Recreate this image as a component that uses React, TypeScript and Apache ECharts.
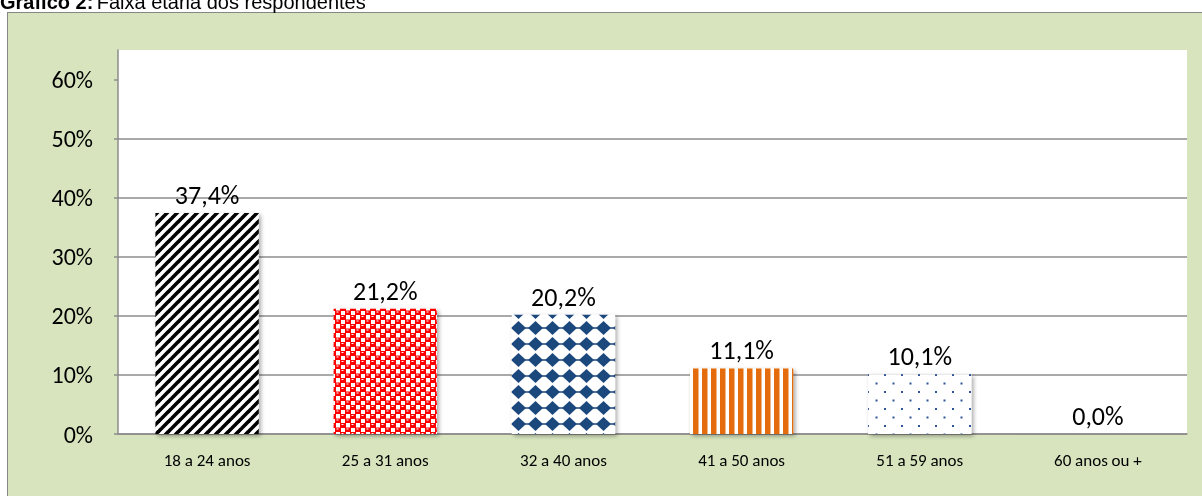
import React, { useEffect, useRef } from "react";
import * as echarts from "echarts";

const categories = ["18 a 24 anos", "25 a 31 anos", "32 a 40 anos", "41 a 50 anos", "51 a 59 anos", "60 anos ou +"];
const values = [0.374, 0.212, 0.202, 0.111, 0.101, 0.0];
const tickValues = [0, 0.1, 0.2, 0.3, 0.4, 0.5, 0.6];
const titleBold = "Gráfico 2:";
const titleRest = "Faixa etária dos respondentes";

type Tile = { url: string; w: number; h: number };

function makeTile(w: number, h: number, draw: (ctx: CanvasRenderingContext2D) => void): Tile {
  const c = document.createElement("canvas");
  c.width = w;
  c.height = h;
  const ctx = c.getContext("2d") as CanvasRenderingContext2D;
  ctx.fillStyle = "#ffffff";
  ctx.fillRect(0, 0, w, h);
  draw(ctx);
  return { url: c.toDataURL(), w, h };
}

function buildTiles(): Tile[] {
  const stripes = makeTile(10, 10, (ctx) => {
    ctx.strokeStyle = "#000000";
    ctx.lineWidth = 3.6;
    for (let k = -1; k <= 1; k++) {
      ctx.beginPath();
      ctx.moveTo(k * 10 - 1, 11);
      ctx.lineTo(k * 10 + 11, -1);
      ctx.stroke();
    }
  });
  const red = makeTile(10, 9, (ctx) => {
    ctx.fillStyle = "#ff0000";
    ctx.fillRect(0, 0, 6, 5);
    ctx.fillRect(5, 4.5, 5, 4.5);
    ctx.fillRect(0, 4.5, 1, 4.5);
    ctx.fillStyle = "#ffffff";
    ctx.fillRect(1.5, 1, 2, 1);
    ctx.fillRect(6.5, 5.5, 2, 1);
  });
  const diamonds = makeTile(17, 16, (ctx) => {
    ctx.fillStyle = "#1f497d";
    ctx.beginPath();
    ctx.moveTo(8.5, 1);
    ctx.lineTo(16, 8);
    ctx.lineTo(8.5, 15);
    ctx.lineTo(1, 8);
    ctx.closePath();
    ctx.fill();
    ctx.fillRect(0, 7.25, 17, 1.5);
  });
  const orange = makeTile(9, 9, (ctx) => {
    ctx.fillStyle = "#e46c0a";
    ctx.fillRect(0, 0, 5.5, 9);
  });
  const dots = makeTile(17, 17, (ctx) => {
    ctx.fillStyle = "#2e5597";
    ctx.fillRect(0, 0, 2, 2);
    ctx.fillRect(8.5, 8.5, 2, 2);
  });
  return [stripes, red, diamonds, orange, dots, dots];
}

export default function App() {
  const ref = useRef<HTMLDivElement>(null);
  useEffect(() => {
    if (!ref.current) return;
    const chart = echarts.init(ref.current, null, { renderer: "svg" });
    const tiles = buildTiles();
    const font = "Calibri, Carlito, Lato, sans-serif";
    chart.setOption({
      animation: false,
      graphic: [
        {
          type: "text",
          x: 0,
          y: 2,
          style: {
            text: `{b|${titleBold}} {r|${titleRest}}`,
            verticalAlign: "middle",
            rich: {
              b: { fontFamily: "Liberation Sans, Arial", fontWeight: "bold", fontSize: 20, fill: "#000" },
              r: { fontFamily: "Liberation Sans, Arial", fontSize: 20, fill: "#000" },
            },
          },
        },
      ],
      grid: {
        left: 118,
        right: 15,
        top: 50,
        bottom: 62,
        show: true,
        backgroundColor: "#ffffff",
        borderWidth: 0,
      },
      xAxis: {
        type: "category",
        data: categories,
        axisLine: { lineStyle: { color: "#8c8c8c", width: 1.5 } },
        axisTick: { show: false },
        axisLabel: { color: "#000", fontSize: 17, fontFamily: font, margin: 18 },
      },
      yAxis: {
        type: "value",
        min: 0,
        max: 0.65,
        interval: 0.1,
        axisLine: { show: true, lineStyle: { color: "#8c8c8c", width: 1.5 } },
        axisTick: { show: true, length: 4, customValues: tickValues, lineStyle: { color: "#8c8c8c", width: 1.5 } },
        axisLabel: {
          customValues: tickValues,
          color: "#000",
          fontSize: 24,
          fontFamily: font,
          margin: 25,
          formatter: (v: number) => `${Math.round(v * 100)}%`,
        },
        splitLine: { show: true, showMaxLine: false, lineStyle: { color: "#8c8c8c", width: 1.5 } },
      },
      series: [
        {
          type: "bar",
          barWidth: "58%",
          data: values.map((v, i) => ({
            value: v,
            itemStyle: {
              color: { image: tiles[i].url, imageWidth: tiles[i].w, imageHeight: tiles[i].h, repeat: "repeat" },
              shadowColor: "rgba(0,0,0,0.35)",
              shadowBlur: 4,
              shadowOffsetX: 2,
              shadowOffsetY: 2,
            },
          })),
          label: {
            show: true,
            position: "top",
            distance: 5,
            color: "#000",
            fontSize: 26,
            fontFamily: font,
            formatter: (p: any) => `${(p.value * 100).toFixed(1).replace(".", ",")}%`,
          },
        },
      ],
    });
    return () => chart.dispose();
  }, []);
  return (
    <div style={{ position: "fixed", left: 0, top: 0, width: 1202, height: 496, background: "#ffffff" }}>
      <div
        style={{
          position: "absolute",
          left: 7,
          top: 12,
          width: 1200,
          height: 500,
          background: "#d7e4bd",
          border: "1.5px solid #868686",
          boxSizing: "border-box",
        }}
      />
      <div ref={ref} style={{ position: "absolute", left: 0, top: 0, width: 1202, height: 496 }} />
    </div>
  );
}
